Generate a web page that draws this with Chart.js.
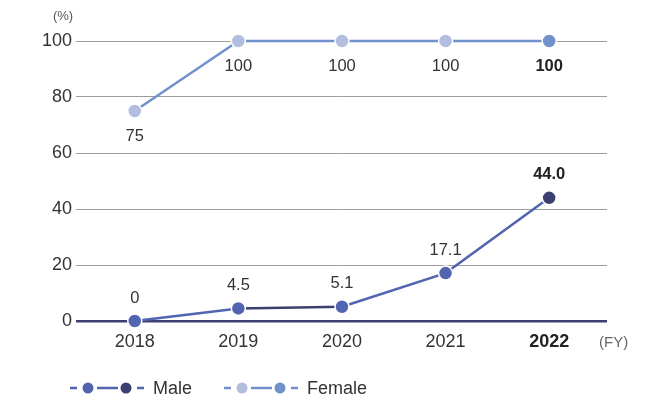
<!DOCTYPE html>
<html>
<head>
<meta charset="utf-8">
<script src="https://cdn.jsdelivr.net/npm/chart.js@4/dist/chart.umd.min.js"></script>
<style>
  html, body { margin: 0; padding: 0; background: #fff; }
  #wrap { width: 653px; height: 398px; position: relative; }
</style>
</head>
<body>
<div id="wrap"><canvas id="chart"></canvas></div>
<script>
// values
const years = ['2018', '2019', '2020', '2021', '2022'];
const maleValues = [0, 4.5, 5.1, 17.1, 44.0];
const femaleValues = [75, 100, 100, 100, 100];
const maleLabels = ['0', '4.5', '5.1', '17.1', '44.0'];
const femaleLabels = ['75', '100', '100', '100', '100'];
const yTicks = [0, 20, 40, 60, 80, 100];

const FONT = "'Liberation Sans', Arial, sans-serif";
const TEXT = '#333333';
const MALE = '#5165b0';
const MALE_DARK = '#3b4070';
const FEMALE = '#7191cc';
const FEMALE_LIGHT = '#b3bde0';

let ctx = document.getElementById('chart').getContext('2d');

// point value labels, axis units and the legend, drawn on the canvas
const extras = {
  id: 'extras',
  afterDatasetsDraw(chart) {
    const c = chart.ctx;
    c.save();
    c.textAlign = 'center';
    c.textBaseline = 'middle';
    chart.data.datasets.forEach((ds, di) => {
      const meta = chart.getDatasetMeta(di);
      meta.data.forEach((pt, i) => {
        const last = i === meta.data.length - 1;
        c.font = (last ? 'bold ' : '') + '16.5px ' + FONT;
        c.fillStyle = last ? '#222' : TEXT;
        const dy = ds.labelBelow ? 25 : -23;
        c.fillText(ds.valueLabels[i], pt.x, pt.y + dy);
      });
    });

    // units
    c.font = '13px ' + FONT;
    c.fillStyle = '#555';
    c.fillText('(%)', 63, 16);
    c.font = '15px ' + FONT;
    c.fillStyle = '#666';
    c.textAlign = 'left';
    c.fillText('(FY)', 599, 343);

    // legend
    const y = 388;
    function item(x0, colA, colB, lineCol, label) {
      c.lineWidth = 2.5;
      c.strokeStyle = lineCol;
      c.beginPath();
      c.moveTo(x0, y); c.lineTo(x0 + 7, y);
      c.moveTo(x0 + 27, y); c.lineTo(x0 + 48, y);
      c.moveTo(x0 + 67, y); c.lineTo(x0 + 74, y);
      c.stroke();
      [[x0 + 18, colA], [x0 + 56, colB]].forEach(([cx, col]) => {
        c.beginPath();
        c.arc(cx, y, 5.5, 0, Math.PI * 2);
        c.fillStyle = col;
        c.fill();
      });
      c.font = '18px ' + FONT;
      c.fillStyle = TEXT;
      c.textAlign = 'left';
      c.fillText(label, x0 + 83, y + 1);
    }
    item(70, MALE, MALE_DARK, MALE, 'Male');
    item(224, FEMALE_LIGHT, FEMALE, FEMALE, 'Female');
    c.restore();
  }
};

new Chart(ctx, {
  type: 'line',
  data: {
    datasets: [
      {
        label: 'Female',
        data: femaleValues.map((v, i) => ({x: i, y: v})),
        valueLabels: femaleLabels,
        labelBelow: true,
        borderColor: FEMALE,
        borderWidth: 2.5,
        pointRadius: 7,
        pointHoverRadius: 7,
        pointBorderWidth: 1.5,
        pointBorderColor: '#fff',
        pointBackgroundColor: femaleValues.map((v, i) => i === femaleValues.length - 1 ? FEMALE : FEMALE_LIGHT),
        tension: 0
      },
      {
        label: 'Male',
        data: maleValues.map((v, i) => ({x: i, y: v})),
        valueLabels: maleLabels,
        labelBelow: false,
        borderColor: MALE,
        borderWidth: 2.5,
        segment: {
          borderColor: s => s.p0DataIndex === 1 ? MALE_DARK : MALE
        },
        pointRadius: 7,
        pointHoverRadius: 7,
        pointBorderWidth: 1.5,
        pointBorderColor: '#fff',
        pointBackgroundColor: maleValues.map((v, i) => i === maleValues.length - 1 ? MALE_DARK : MALE),
        tension: 0
      }
    ]
  },
  options: {
    responsive: true,
    maintainAspectRatio: false,
    animation: false,
    clip: false,
    layout: { padding: { top: 41, right: 46, left: 0, bottom: 0 } },
    plugins: { legend: { display: false }, tooltip: { enabled: false } },
    scales: {
      x: {
        type: 'linear',
        min: -0.567,
        max: 4.558,
        afterFit: s => { s.height = 77; },
        afterBuildTicks: s => { s.ticks = years.map((y, i) => ({value: i})); },
        grid: { display: false },
        border: { display: false },
        ticks: {
          padding: 2,
          color: c => c.index === years.length - 1 ? '#222' : TEXT,
          font: c => ({ family: FONT, size: 18, weight: c.index === years.length - 1 ? 'bold' : 'normal' }),
          callback: v => years[v]
        }
      },
      y: {
        min: 0,
        max: 100,
        afterFit: s => { s.width = 76; },
        afterBuildTicks: s => { s.ticks = yTicks.map(v => ({value: v})); },
        border: { display: false },
        grid: {
          drawTicks: false,
          color: c => c.tick.value === 0 ? '#3b4070' : '#9c9c9c',
          lineWidth: c => c.tick.value === 0 ? 2.5 : 1
        },
        ticks: {
          padding: 4,
          color: TEXT,
          font: { family: FONT, size: 18 }
        }
      }
    }
  },
  plugins: [extras]
});
</script>
</body>
</html>
